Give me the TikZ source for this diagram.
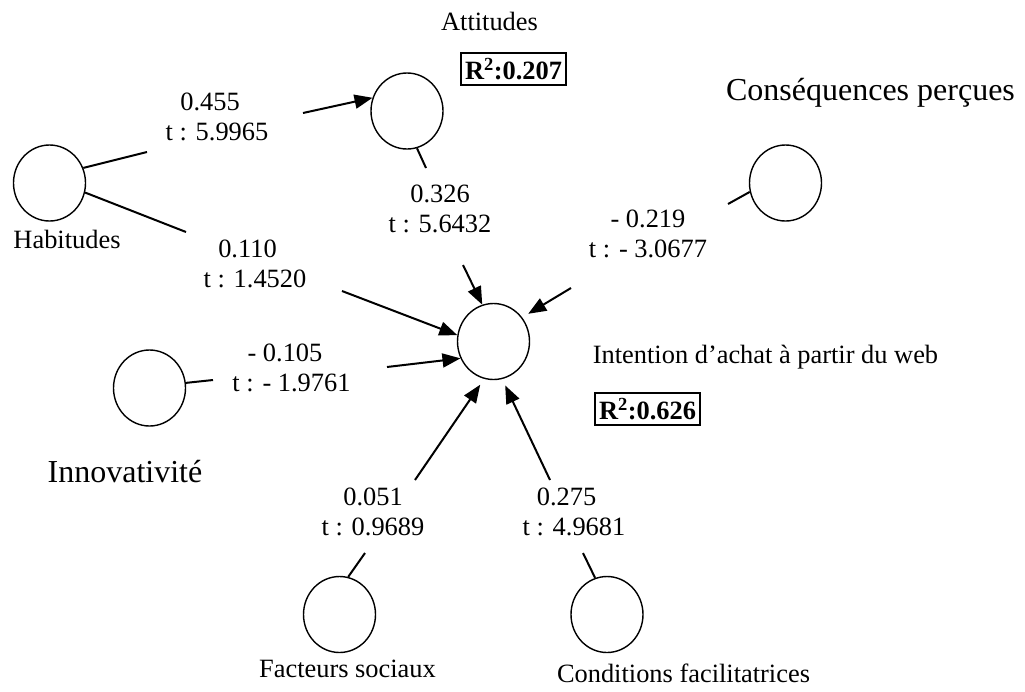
\documentclass[tikz,border=0pt]{standalone}
\usepackage{fontspec}
\setmainfont{Liberation Serif}
\usetikzlibrary{shapes.geometric,arrows.meta}
\begin{document}
\begin{tikzpicture}[x=1pt,y=-1pt,
  latent/.style={ellipse,draw,line width=1.4pt,minimum width=72pt,minimum height=76pt,inner sep=0pt},
  lbl/.style={font=\fontsize{26.4}{30}\selectfont,inner sep=0pt,anchor=base,align=center},
  big/.style={font=\fontsize{32}{36}\selectfont,inner sep=0pt,anchor=base},
  rsq/.style={draw,line width=1.4pt,font=\fontsize{26.4}{30}\selectfont\bfseries,minimum width=105pt,minimum height=32pt,inner sep=0pt},
  seg/.style={line width=2pt},
  arr/.style={line width=2pt,-{Triangle[length=18pt,width=14pt]}}]
\useasboundingbox (0,0) rectangle (1025,691);
% latent variables
\node[latent] (hab) at (49.5,183) {};
\node[latent] (att) at (407,111) {};
\node[latent] (con) at (785.5,183) {};
\node[latent] (inn) at (149.5,388) {};
\node[latent] (cen) at (493.5,341.5) {};
\node[latent] (fac) at (339.5,614.5) {};
\node[latent] (cnd) at (607,614.5) {};
% names
\node[lbl] (tatt) at (489.5,30) {Attitudes};
\node[rsq] (r1) at (513.5,69) {R\textsuperscript{2}:0.207};
\node[big] (tcon) at (870.5,100) {Conséquences perçues};
\node[lbl] (thab) at (67,248) {Habitudes};
\node[big] (tinn) at (125,482) {Innovativité};
\node[lbl] (tfac) at (347.5,677) {Facteurs sociaux};
\node[lbl] (tcnd) at (683.5,682) {Conditions facilitatrices};
\node[lbl] (tcen) at (765.5,363) {Intention d’achat à partir du web};
\node[rsq] (r2) at (647.5,409) {R\textsuperscript{2}:0.626};
% path coefficients (anchor = baseline of the second line)
\node[lbl] (l1) at (217,140) {0.455\hspace*{14pt}\\t : 5.9965};
\node[lbl] (l2) at (440,232) {0.326\\t : 5.6432};
\node[lbl] (l3) at (255,287) {0.110\hspace*{15pt}\\t : 1.4520};
\node[lbl] (l4) at (648,257) {- 0.219\\t : - 3.0677};
\node[lbl] (l5) at (291.5,391) {- 0.105\hspace*{13pt}\\t : - 1.9761};
\node[lbl] (l6) at (373,535) {0.051\\t : 0.9689};
\node[lbl] (l7) at (574,535) {0.275\hspace*{15pt}\\t : 4.9681};
% gap ends of the connectors
\coordinate (g1a) at (147,152); \coordinate (g1b) at (303,113);
\coordinate (g2a) at (186,232); \coordinate (g2b) at (342,291);
\coordinate (g3a) at (426,168); \coordinate (g3b) at (463,265);
\coordinate (g4a) at (728,204); \coordinate (g4b) at (571,288);
\coordinate (g5a) at (213,380); \coordinate (g5b) at (387,367);
\coordinate (g6a) at (365,553); \coordinate (g6b) at (415,480);
\coordinate (g7a) at (583,553); \coordinate (g7b) at (550,480);
% connectors
\draw[seg] (hab.24) -- (g1a);  \draw[arr] (g1b) -- (att.159);
\draw[seg] (hab.-15) -- (g2a); \draw[arr] (g2b) -- (cen.170);
\draw[seg] (att.-75) -- (g3a); \draw[arr] (g3b) -- (cen.107);
\draw[seg] (con.194) -- (g4a); \draw[arr,shorten >=7pt] (g4b) -- (cen.40);
\draw[seg] (inn.8) -- (g5a);   \draw[arr] (g5b) -- (cen.207);
\draw[seg] (fac.77) -- (g6a);  \draw[arr,shorten >=7pt] (g6b) -- (cen.256);
\draw[seg] (cnd.108) -- (g7a); \draw[arr,shorten >=7pt] (g7b) -- (cen.283);
\end{tikzpicture}
\end{document}
